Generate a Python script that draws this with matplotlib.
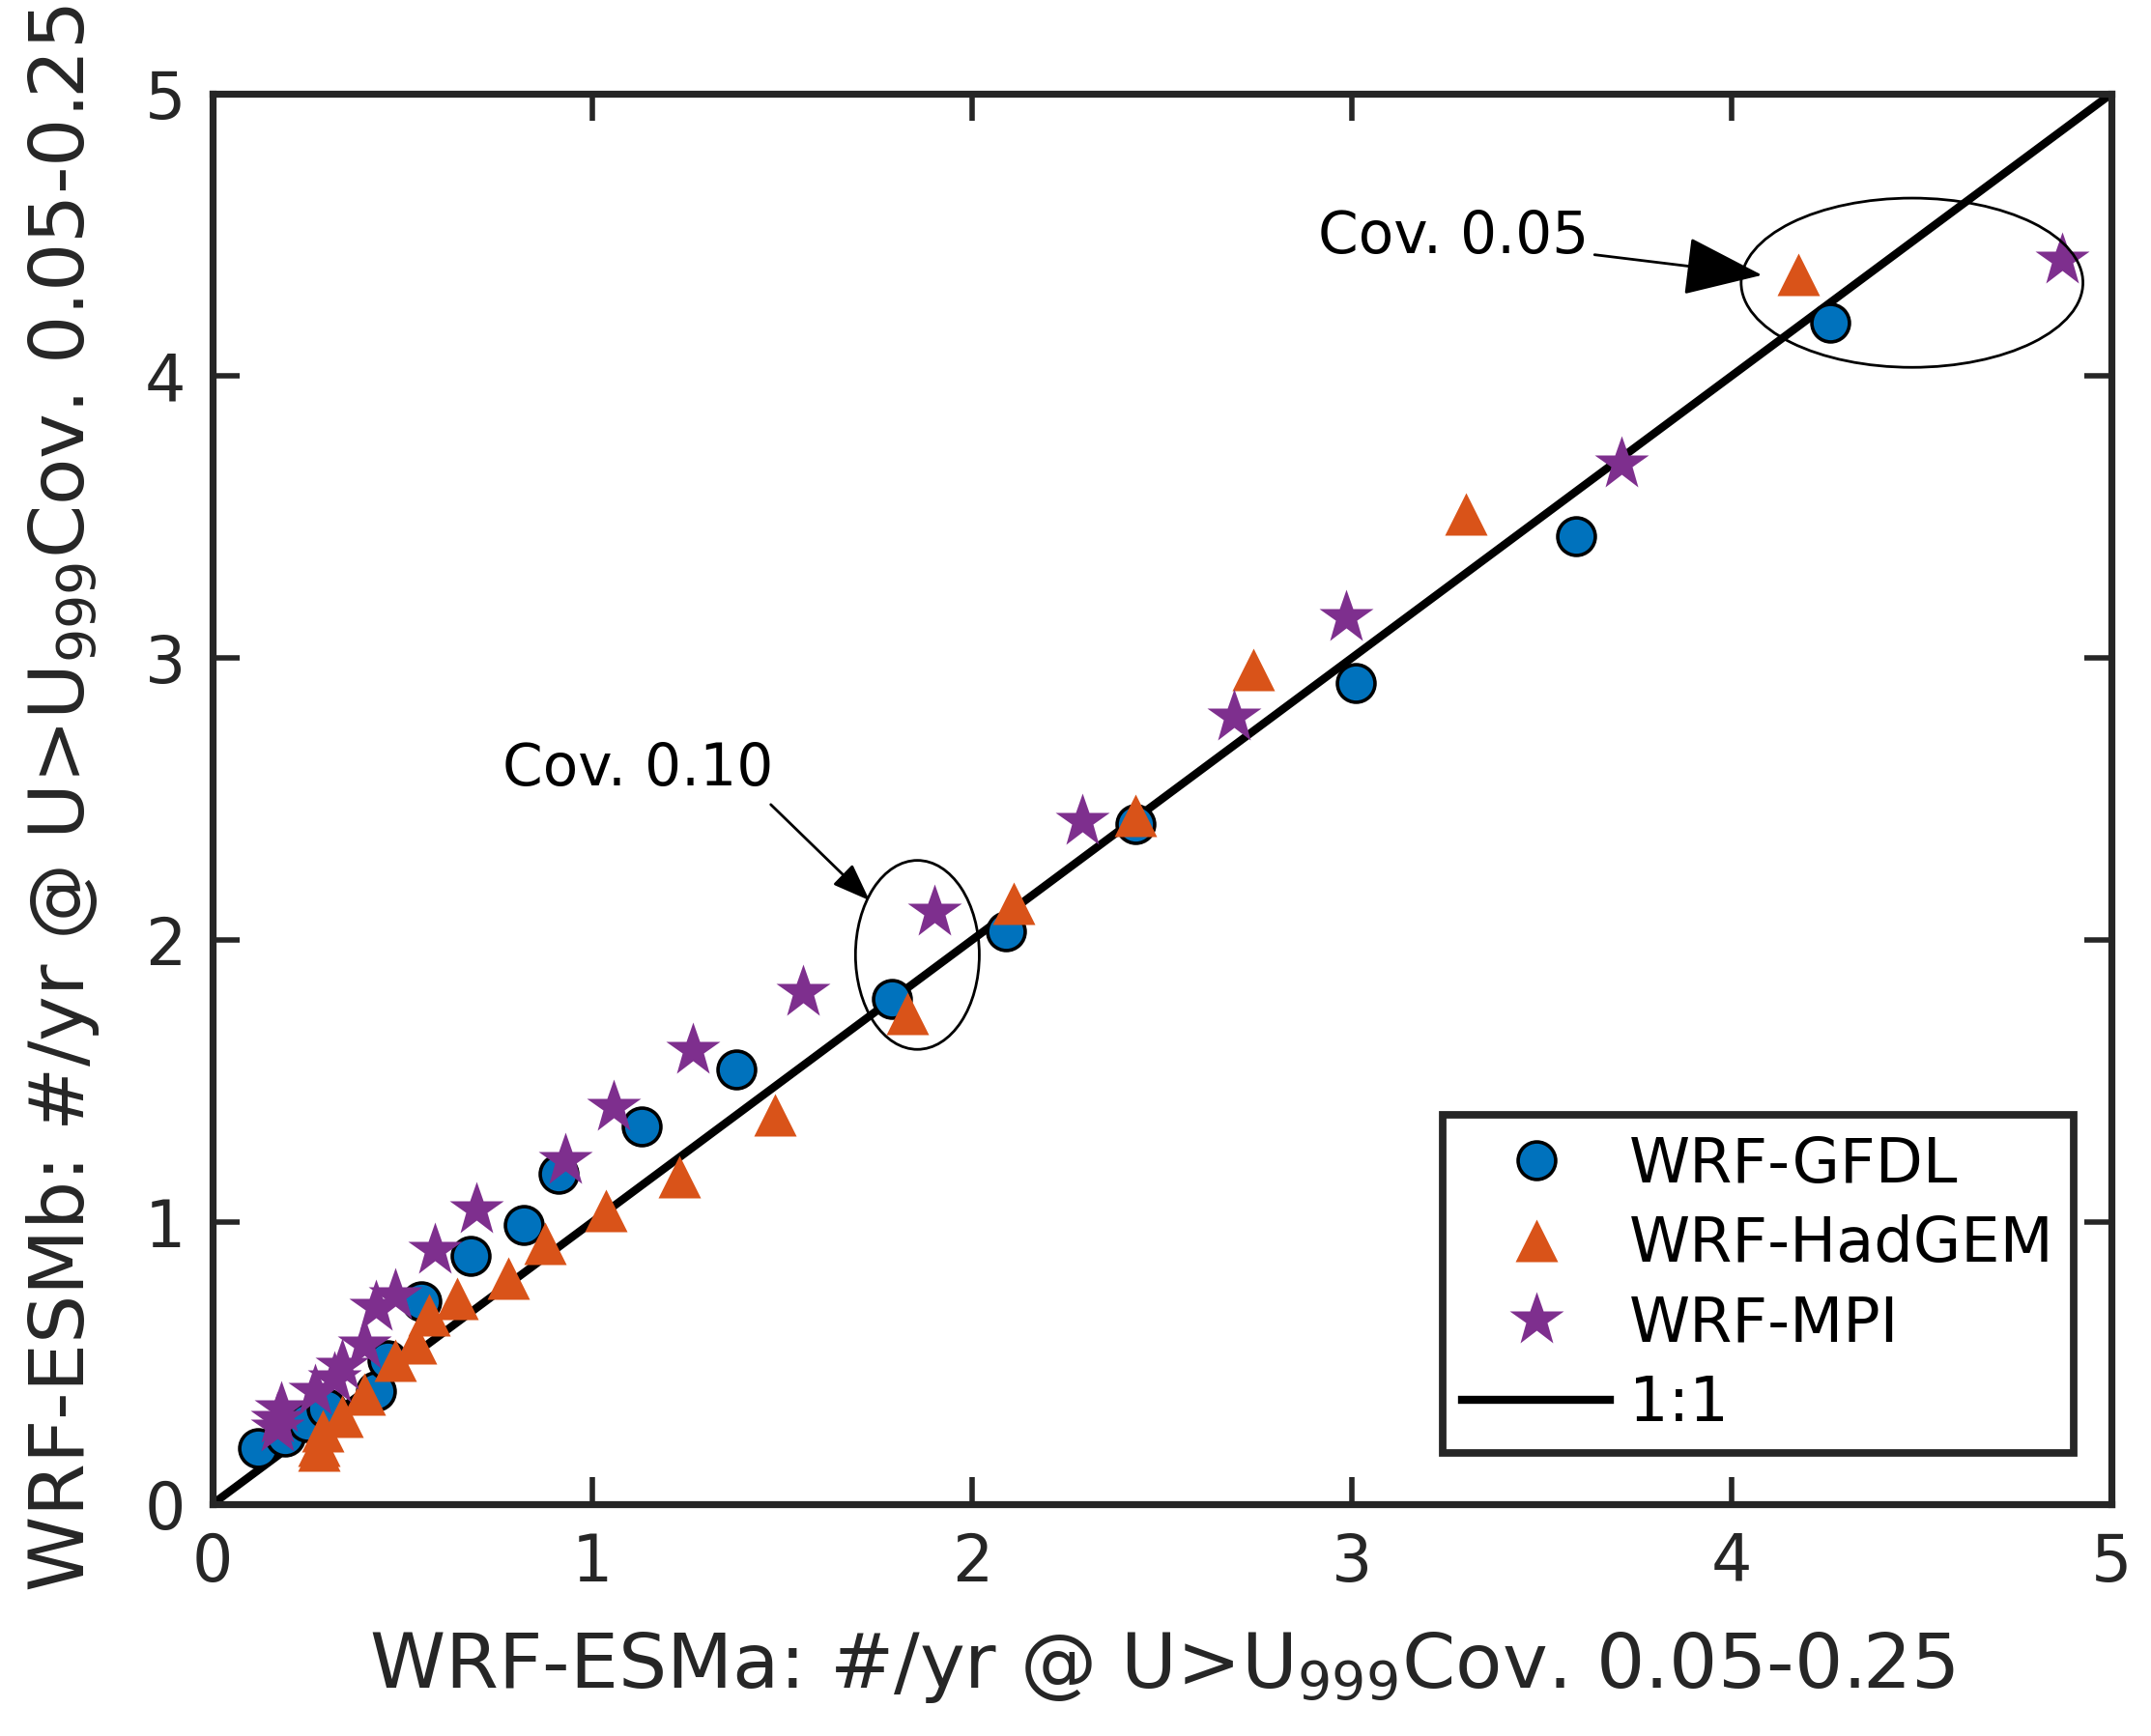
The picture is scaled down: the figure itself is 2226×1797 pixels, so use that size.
import matplotlib
matplotlib.use("Agg")
import matplotlib.pyplot as plt
from matplotlib.patches import Ellipse

BLUE = "#0072BD"
ORANGE = "#D95319"
PURPLE = "#7E2F8E"
INK = "#262626"

# WRF-GFDL
gfdl_x = [0.12, 0.19, 0.25, 0.30, 0.43, 0.46, 0.55, 0.68, 0.82, 0.91, 1.13, 1.38,
          1.79, 2.09, 2.43, 3.01, 3.59, 4.26]
gfdl_y = [0.20, 0.24, 0.29, 0.34, 0.40, 0.51, 0.72, 0.88, 0.99, 1.17, 1.34, 1.54,
          1.79, 2.03, 2.41, 2.91, 3.43, 4.19]

# WRF-HadGEM
had_x = [0.28, 0.28, 0.29, 0.34, 0.40, 0.48, 0.535, 0.57, 0.645, 0.78, 0.875, 1.035,
         1.23, 1.48, 1.83, 2.11, 2.43, 2.74, 3.30, 4.175]
had_y = [0.19, 0.21, 0.26, 0.31, 0.39, 0.51, 0.57, 0.67, 0.73, 0.80, 0.925, 1.04,
         1.16, 1.38, 1.74, 2.13, 2.44, 2.96, 3.51, 4.36]

# WRF-MPI
mpi_x = [0.17, 0.17, 0.18, 0.27, 0.32, 0.34, 0.40, 0.43, 0.48, 0.585, 0.695, 0.93,
         1.056, 1.266, 1.556, 1.90, 2.29, 2.69, 2.985, 3.71, 4.87]
mpi_y = [0.27, 0.30, 0.34, 0.40, 0.445, 0.49, 0.565, 0.70, 0.74, 0.90, 1.045, 1.22,
         1.407, 1.61, 1.816, 2.10, 2.42, 2.79, 3.145, 3.69, 4.41]

one_to_one = [0, 5]
ticks = [0, 1, 2, 3, 4, 5]

fig = plt.figure(figsize=(11.13, 8.985), dpi=200)
ax = fig.add_axes([0.0988, 0.1336, 0.8828, 0.8124])

ax.plot(gfdl_x, gfdl_y, "o", ms=14, mfc=BLUE, mec="black", mew=1.3, ls="none",
        label="WRF-GFDL", zorder=3)
ax.plot(had_x, had_y, "^", ms=16, mfc=ORANGE, mec="none", ls="none",
        label="WRF-HadGEM", zorder=4)
ax.plot(mpi_x, mpi_y, "*", ms=21, mfc=PURPLE, mec="none", ls="none",
        label="WRF-MPI", zorder=5)
ax.plot(one_to_one, one_to_one, "-", color="black", lw=3.0, label="1:1", zorder=2)

# annotations
ax.add_patch(Ellipse((4.475, 4.33), 0.90, 0.60, fill=False, ec="black", lw=1.0, zorder=6))
ax.add_patch(Ellipse((1.856, 1.947), 0.326, 0.67, fill=False, ec="black", lw=1.0, zorder=6))
arrow = dict(arrowstyle="-|>,head_length=1.2,head_width=0.45", color="black", lw=1.0,
             shrinkA=0, shrinkB=0)
ax.annotate("Cov. 0.05", xy=(4.08, 4.357), xytext=(3.625, 4.49), ha="right", va="center",
            fontsize=21.5, color="black", arrowprops=arrow, zorder=7)
ax.annotate("Cov. 0.10", xy=(1.73, 2.14), xytext=(0.763, 2.605), ha="left", va="center",
            fontsize=21.5, color="black", zorder=7)
ax.annotate("", xy=(1.73, 2.14), xytext=(1.47, 2.48), arrowprops=arrow, zorder=7)

ax.set_xlim(0, 5)
ax.set_ylim(0, 5)
ax.set_xticks(ticks)
ax.set_yticks(ticks)
ax.tick_params(direction="in", length=10, width=2.0, top=True, right=True,
               labelsize=24, colors=INK, pad=10)
for s in ax.spines.values():
    s.set_linewidth(2.6)
    s.set_color(INK)

ax.set_xlabel("WRF-ESMa: #/yr @ U>U$_{999}$Cov. 0.05-0.25", fontsize=28.5, color=INK,
              labelpad=13)
ax.set_ylabel("WRF-ESMb: #/yr @ U>U$_{999}$Cov. 0.05-0.25", fontsize=28.5, color=INK,
              labelpad=16)

leg = ax.legend(loc="lower right", bbox_to_anchor=(0.98, 0.036), borderaxespad=0,
                fontsize=23, numpoints=1, handlelength=2.4, handletextpad=0.3,
                fancybox=False, framealpha=1, edgecolor=INK, borderpad=0.32,
                labelspacing=0.32)
leg.get_frame().set_linewidth(2.8)

fig.savefig("out.png", dpi=200)
